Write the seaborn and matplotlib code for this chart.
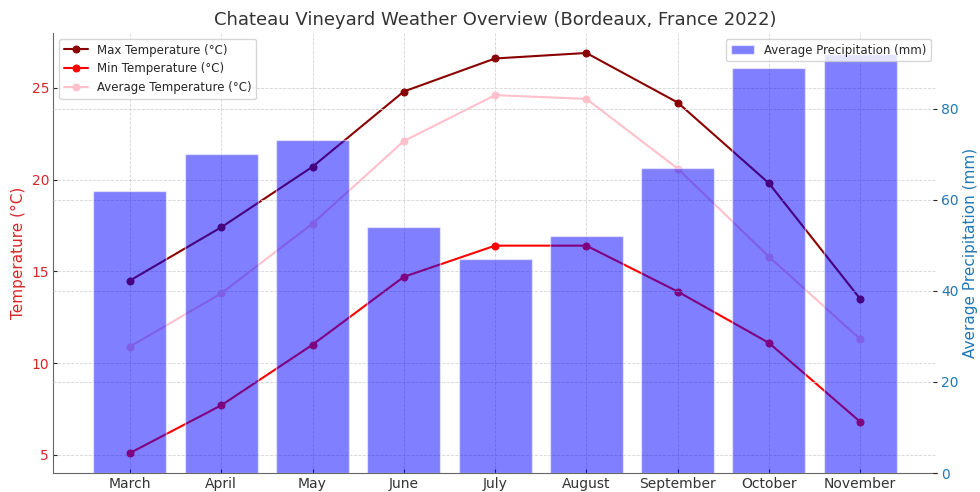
import pandas as pd
import matplotlib.pyplot as plt
import seaborn as sns

sns.set_style("ticks")
plt.rcParams["font.family"] = ["DejaVu Sans"]

# ---- data ----
months = ["March", "April", "May", "June", "July", "August",
          "September", "October", "November"]
max_temp = [14.5, 17.4, 20.7, 24.8, 26.6, 26.9, 24.2, 19.8, 13.5]
min_temp = [5.1, 7.7, 11.0, 14.7, 16.4, 16.4, 13.9, 11.1, 6.8]
avg_temp = [10.9, 13.8, 17.6, 22.1, 24.6, 24.4, 20.6, 15.8, 11.3]
precip = [62, 70, 73, 54, 47, 52, 67, 89, 92]

df = pd.DataFrame({"Month": months, "Max": max_temp, "Min": min_temp,
                   "Avg": avg_temp, "Precip": precip})

fig, ax1 = plt.subplots(figsize=(9.8, 4.92), dpi=100)
fig.subplots_adjust(left=0.0544, right=0.956, top=0.933, bottom=0.0386)

grid_kw = dict(linestyle="--", color="#d4d4d4", linewidth=0.6)
ax1.grid(True, **grid_kw)

# temperature lines
for col, color, label in [("Max", "darkred", "Max Temperature (°C)"),
                          ("Min", "red", "Min Temperature (°C)"),
                          ("Avg", "pink", "Average Temperature (°C)")]:
    sns.lineplot(data=df, x="Month", y=col, ax=ax1, color=color, marker="o",
                 markersize=5, markeredgecolor=color, linewidth=1.5,
                 label=label)

ax1.set_xlabel("")
ax1.set_ylabel("Temperature (°C)", color="tab:red", fontsize=11, labelpad=4)
ax1.tick_params(axis="y", labelcolor="tab:red", labelsize=10,
                length=3, pad=3, direction="in")
ax1.tick_params(axis="x", labelsize=10, labelcolor="#333333",
                length=3, pad=3, direction="in")
ax1.legend(loc="upper left", fontsize=8.5)

# precipitation bars on the twin axis
ax2 = ax1.twinx()
sns.barplot(data=df, x="Month", y="Precip", ax=ax2, color="blue",
            alpha=0.5, saturation=1, width=0.8,
            label="Average Precipitation (mm)")
ax2.grid(True, axis="y", **grid_kw)
ax2.set_xlabel("")
ax2.set_ylabel("Average Precipitation (mm)", color="tab:blue", fontsize=11,
               labelpad=3)
ax2.tick_params(axis="y", labelcolor="tab:blue", labelsize=10,
                length=3, pad=3, direction="in")
ax2.legend(loc="upper right", fontsize=8.5)

ax1.set_xlim(-0.84, 8.84)
ax1.xaxis.grid(True, **grid_kw)

for s in ["top", "right"]:
    ax1.spines[s].set_visible(False)
for s in ["top", "right", "left", "bottom"]:
    ax2.spines[s].set_visible(False)
ax1.spines["left"].set_color("#666666")
ax1.spines["bottom"].set_color("#666666")

ax1.set_title("Chateau Vineyard Weather Overview (Bordeaux, France 2022)",
              fontsize=13, color="#333333")

plt.savefig("out.png", dpi=100)
